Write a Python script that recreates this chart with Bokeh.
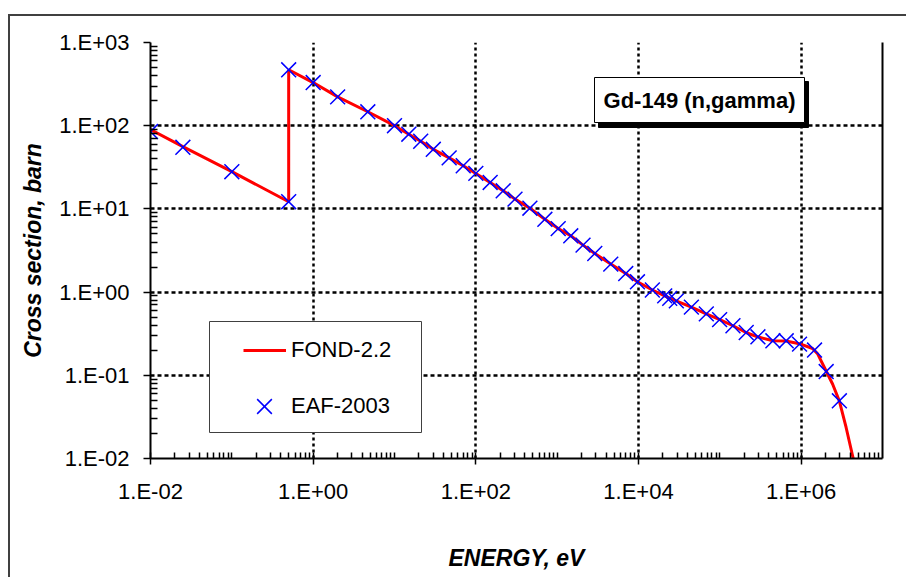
from bokeh.plotting import figure
from bokeh.models import (FixedTicker, CustomJSTickFormatter, LogAxis, Legend, LegendItem,
                          BoxAnnotation, Label)
from bokeh.embed import file_html
from bokeh.resources import INLINE

# ---- data ----
fond_energy = [0.01, 0.025, 0.1, 0.5, 0.5, 1.0, 2.0, 4.7, 10, 15, 21, 30, 47, 70, 100, 150, 217,
               303, 462, 706, 1030, 1470, 2080, 2900, 4560, 6970, 9710, 14800, 21000, 29000,
               44700, 68000, 1.0e5, 1.45e5, 2.1e5, 2.9e5, 4.5e5, 6.5e5, 9.5e5, 1.38e6, 1.6e6,
               1.93e6, 2.44e6, 2.95e6, 3.57e6, 4.52e6]
fond_xs = [90, 56, 28, 12.2, 470, 330, 222, 147, 100, 79, 65, 52, 41, 33, 26.7, 20.8, 16.5,
           13.1, 10.2, 7.5, 5.8, 4.75, 3.67, 2.91, 2.17, 1.67, 1.33, 1.06, 0.9, 0.785,
           0.66, 0.548, 0.467, 0.394, 0.327, 0.29, 0.26, 0.258, 0.24, 0.21, 0.18,
           0.124, 0.078, 0.049, 0.0236, 0.0086]

eaf_energy = [0.01, 0.025, 0.1, 0.5, 0.5, 1.0, 2.0, 4.7, 10, 15, 21, 30, 47, 70, 100, 150, 217,
              303, 462, 706, 1030, 1470, 2080, 2900, 4560, 6970, 9710, 14800, 21000, 24200,
              29200, 44700, 68200, 99400, 1.45e5, 2.11e5, 2.94e5, 4.49e5, 6.55e5, 9.55e5,
              1.46e6, 2.03e6, 2.95e6]
eaf_xs = [85, 55, 28, 12.2, 470, 330, 222, 147, 100, 79, 65, 52, 41, 33, 26.7, 20.8, 16.5,
          13.1, 10.2, 7.5, 5.8, 4.75, 3.67, 2.91, 2.17, 1.67, 1.33, 1.06, 0.90, 0.84,
          0.785, 0.66, 0.548, 0.467, 0.394, 0.327, 0.290, 0.260, 0.260, 0.237,
          0.201, 0.111, 0.0494]

x_major = [1e-2, 1e0, 1e2, 1e4, 1e6]
x_labels = ["1.E-02", "1.E+00", "1.E+02", "1.E+04", "1.E+06"]
y_major = [1e-2, 1e-1, 1e0, 1e1, 1e2, 1e3]
y_labels = ["1.E-02", "1.E-01", "1.E+00", "1.E+01", "1.E+02", "1.E+03"]
x_minor = [m * 10.0 ** k for k in range(-2, 7) for m in range(1, 10) if not (m == 1 and k % 2 == 0)]
y_minor = [m * 10.0 ** k for k in range(-2, 3) for m in range(2, 10)]

series_names = ["FOND-2.2", "EAF-2003"]
title_text = "Gd-149 (n,gamma)"
x_title = "ENERGY, eV"
y_title = "Cross section, barn"

FONT = "Liberation Sans"


def fmt(vals, labs):
    return CustomJSTickFormatter(args=dict(vals=vals, labs=labs), code="""
        for (let i = 0; i < vals.length; i++) {
            if (Math.abs(Math.log10(vals[i]) - Math.log10(tick)) < 1e-6) return labs[i];
        }
        return "";
    """)


p = figure(width=898, height=563, x_axis_type="log", y_axis_type="log",
           x_range=(1e-2, 1e7), y_range=(1e-2, 1e3),
           output_backend="svg", toolbar_location=None,
           min_border_left=140, min_border_right=26, min_border_top=26, min_border_bottom=121,
           background_fill_color="white", border_fill_color="white")
p.styles = {"margin-left": "10px", "margin-top": "16px",
            "box-shadow": "-2px -2px 0 0 #404040"}
p.outline_line_color = None

line_r = p.line(fond_energy, fond_xs, line_color="#FF0000", line_width=3)
mark_r = p.scatter(eaf_energy, eaf_xs, marker="x", size=21, line_color="#0000FF", line_width=1.5)

xt = FixedTicker(ticks=x_major, minor_ticks=x_minor)
yt = FixedTicker(ticks=y_major, minor_ticks=y_minor)
xa = p.xaxis[0]
ya = p.yaxis[0]
xa.ticker = xt
ya.ticker = yt
xa.formatter = fmt(x_major, x_labels)
ya.formatter = fmt(y_major, y_labels)
p.xgrid[0].ticker = xt
p.ygrid[0].ticker = yt

for ax in (xa, ya):
    ax.axis_line_color = "black"
    ax.axis_line_width = 2
    ax.major_tick_line_color = "black"
    ax.major_tick_line_width = 1.5
    ax.minor_tick_line_color = "black"
    ax.minor_tick_line_width = 1.5
    ax.major_label_text_font = FONT
    ax.major_label_text_font_size = "22px"
    ax.major_label_text_color = "black"
    ax.major_label_standoff = 14
    ax.axis_label_text_font = FONT
    ax.axis_label_text_font_size = "23px"
    ax.axis_label_text_font_style = "bold italic"
    ax.axis_label_text_color = "black"

xa.axis_label = x_title
ya.axis_label = y_title
xa.major_tick_in = 6
xa.major_tick_out = 6
xa.minor_tick_in = 6
xa.minor_tick_out = 0
ya.major_tick_in = 0
ya.major_tick_out = 7
ya.minor_tick_in = 7
ya.minor_tick_out = 0
xa.axis_label_standoff = 38
ya.axis_label_standoff = 10

p.xgrid[0].grid_line_color = "black"
p.xgrid[0].grid_line_width = 2.5
p.xgrid[0].grid_line_dash = "3 3"
p.ygrid[0].grid_line_color = "black"
p.ygrid[0].grid_line_width = 2.5
p.ygrid[0].grid_line_dash = "4 3"

ra = LogAxis(ticker=FixedTicker(ticks=[]), major_label_text_font_size="0px",
             axis_line_width=2, axis_line_color="black",
             major_tick_line_color=None, minor_tick_line_color=None)
p.add_layout(ra, "right")

# legend frame
p.add_layout(BoxAnnotation(left=59, right=271, bottom=26, top=137,
                           left_units="screen", right_units="screen",
                           bottom_units="screen", top_units="screen",
                           fill_color="white", fill_alpha=1.0,
                           line_color="#404040", line_width=1, line_alpha=1.0))
# title box with shadow
p.add_layout(BoxAnnotation(left=448, right=658, bottom=331, top=377,
                           left_units="screen", right_units="screen",
                           bottom_units="screen", top_units="screen",
                           fill_color="black", fill_alpha=1.0,
                           line_color="black", line_width=1, line_alpha=1.0))
p.add_layout(BoxAnnotation(left=444, right=654, bottom=336, top=381,
                           left_units="screen", right_units="screen",
                           bottom_units="screen", top_units="screen",
                           fill_color="white", fill_alpha=1.0,
                           line_color="black", line_width=1, line_alpha=1.0))

legend_line = Legend(items=[LegendItem(label=series_names[0], renderers=[line_r])],
                     location=(93, 93), orientation="vertical", padding=10,
                     glyph_width=43, glyph_height=30, label_height=30, label_standoff=5, margin=0,
                     border_line_color=None, background_fill_alpha=0,
                     label_text_font=FONT, label_text_font_size="22px", label_text_color="black")
legend_mark = Legend(items=[LegendItem(label=series_names[1], renderers=[mark_r])],
                     location=(88, 26), orientation="vertical", padding=10,
                     glyph_width=52, glyph_height=52, label_height=52, label_standoff=1, margin=0,
                     border_line_color=None, background_fill_alpha=0,
                     label_text_font=FONT, label_text_font_size="22px", label_text_color="black")
p.add_layout(legend_line)
p.add_layout(legend_mark)

p.add_layout(Label(x=549, y=358.5, x_units="screen", y_units="screen", text=title_text,
                   text_align="center", text_baseline="middle", text_font=FONT,
                   text_font_size="22px", text_font_style="bold", text_color="black"))

open("out.html", "w").write(file_html(p, INLINE))
